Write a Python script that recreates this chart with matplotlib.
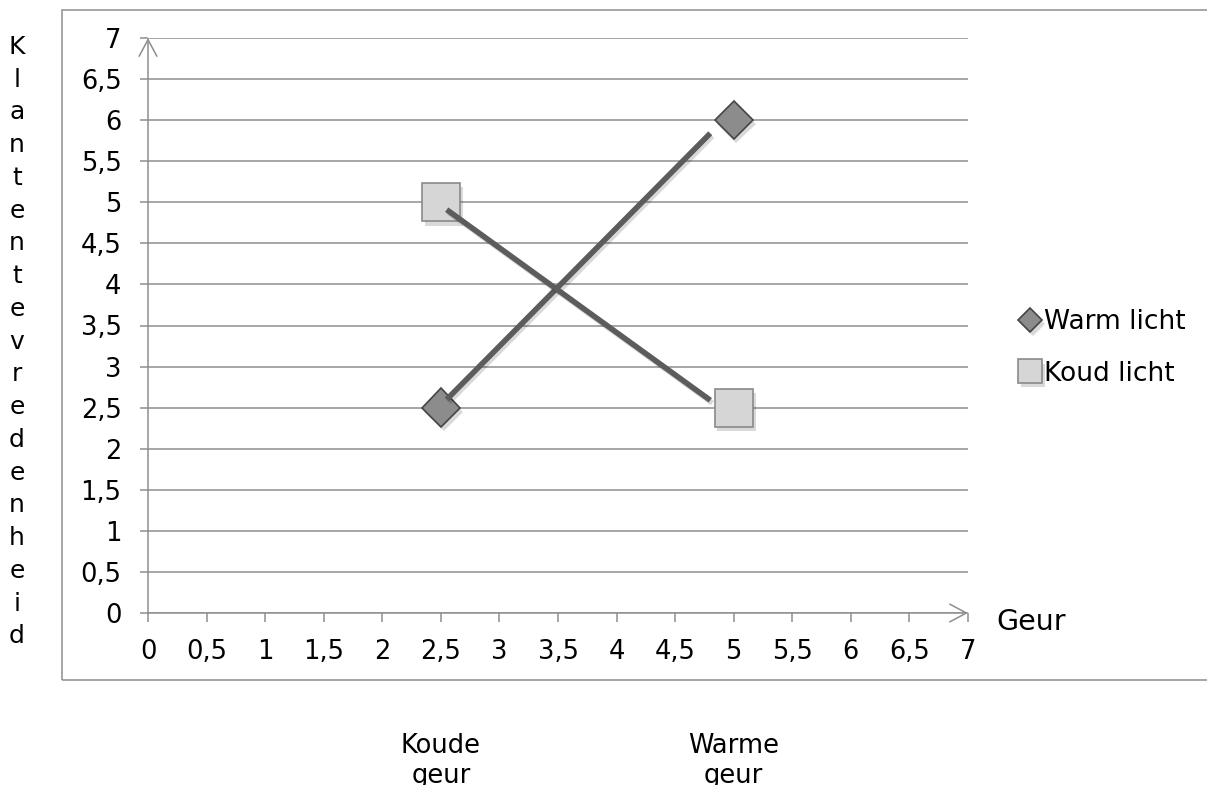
import matplotlib
matplotlib.use("Agg")
import matplotlib.pyplot as plt
import matplotlib.patheffects as pe
import matplotlib.transforms as mtrans
from matplotlib.patches import Rectangle

plt.rcParams['font.family'] = ['DejaVu Sans']

# ---- data ----
categories_x = [2.5, 5]                  # Koude geur, Warme geur
warm_licht = [2.5, 6]
koud_licht = [5, 2.5]
series_labels = ["Warm licht", "Koud licht"]
tick_values = [0, 0.5, 1, 1.5, 2, 2.5, 3, 3.5, 4, 4.5, 5, 5.5, 6, 6.5, 7]
tick_labels = ["0", "0,5", "1", "1,5", "2", "2,5", "3", "3,5", "4", "4,5",
               "5", "5,5", "6", "6,5", "7"]
category_labels = ["Koude\ngeur", "Warme\ngeur"]
# hand-drawn connecting lines
line_x = [2.55, 4.8]
warm_line_y = [2.6, 5.84]
koud_line_y = [4.91, 2.59]
x_title = "Geur"
y_title = "Klantentevredenheid"

W, H = 1207, 785
gray = "#8e8e8e"

fig = plt.figure(figsize=(W / 100, H / 100), dpi=100)
ax = fig.add_axes([148 / W, (H - 613) / H, 820 / W, 575 / H])
ax.set_xlim(0, 7)
ax.set_ylim(0, 7)
for s in ax.spines.values():
    s.set_visible(False)

ax.set_xticks(tick_values)
ax.set_xticklabels(tick_labels)
ax.set_yticks(tick_values)
ax.set_yticklabels(tick_labels)
ax.tick_params(axis='x', direction='out', length=6.5, width=1.1, color=gray,
               pad=12, labelsize=18.5)
ax.tick_params(axis='y', direction='out', length=6, width=1.1, color=gray,
               pad=13, labelsize=18.5)
ax.yaxis.grid(True, color=gray, lw=1.1)
ax.set_axisbelow(True)

arrow = dict(arrowstyle='->,head_length=0.6,head_width=0.32', color=gray,
             lw=1.1, shrinkA=0, shrinkB=0, mutation_scale=20)
ax.annotate('', xy=(0, 7), xytext=(0, 0), arrowprops=arrow, annotation_clip=False)
ax.annotate('', xy=(7, 0), xytext=(0, 0), arrowprops=arrow, annotation_clip=False)

shadow = [pe.SimplePatchShadow(offset=(2, -3), shadow_rgbFace='k', alpha=0.15),
          pe.Normal()]

ax.plot(categories_x, warm_licht, linestyle='none', marker='D', markersize=19.5,
        markerfacecolor='#8c8c8c', markeredgecolor='#454545', markeredgewidth=1.2,
        label=series_labels[0], zorder=4, clip_on=False, path_effects=shadow)
ax.plot(categories_x, koud_licht, linestyle='none', marker='s', markersize=27.5,
        markerfacecolor='#d6d6d6', markeredgecolor='#8a8a8a', markeredgewidth=1.2,
        label=series_labels[1], zorder=4, clip_on=False, path_effects=shadow)

line_shadow = [pe.SimpleLineShadow(offset=(1.5, -2), alpha=0.15), pe.Normal()]
ax.plot(line_x, warm_line_y, color='#5c5c5c', lw=4, solid_capstyle='butt',
        zorder=5, path_effects=line_shadow)
ax.plot(line_x, koud_line_y, color='#5c5c5c', lw=4, solid_capstyle='butt',
        zorder=5, path_effects=line_shadow)

ax.legend(loc='center left', bbox_to_anchor=(1019 / W, (H - 348) / H),
          bbox_transform=fig.transFigure, frameon=False, fontsize=19,
          markerscale=0.62, handlelength=0.85, handletextpad=0.08, borderpad=0,
          borderaxespad=0, labelspacing=0.95, numpoints=1)

fig.text(996 / W, (H - 622) / H, x_title, fontsize=20.5, va='center', ha='left')

fig.text(17 / W, (H - 35) / H, "\n".join(y_title), fontsize=18, va='top',
         ha='center', multialignment='center', linespacing=1.46)

trans = mtrans.blended_transform_factory(ax.transData, fig.transFigure)
for xc, lab in zip(categories_x, category_labels):
    ax.text(xc, (H - 733) / H, lab, transform=trans, fontsize=18.5, va='top',
            ha='center', multialignment='center', linespacing=1.2, clip_on=False)

fig.add_artist(Rectangle((62 / W, (H - 680) / H), 1.2, (680 - 10) / H,
                         transform=fig.transFigure, fill=False, edgecolor=gray,
                         lw=1.1, clip_on=False))

fig.savefig("out.png", dpi=100)
